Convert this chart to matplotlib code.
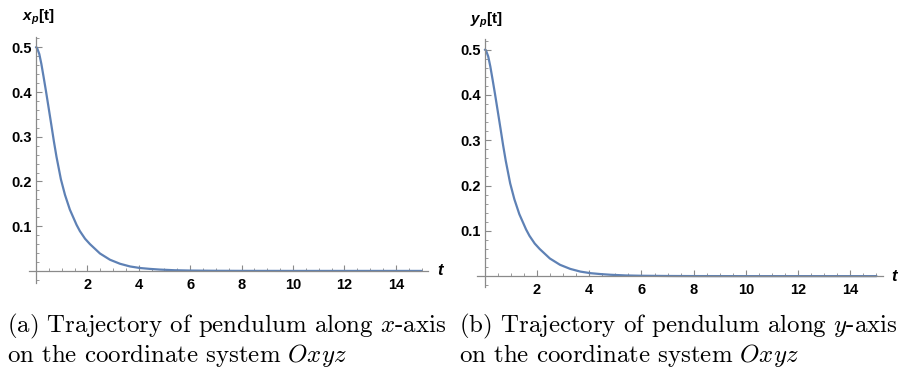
import matplotlib
matplotlib.use("Agg")
import matplotlib.pyplot as plt
from matplotlib.ticker import MultipleLocator

# ---- data ----
t_x = [0, 0.04, 0.13, 0.21, 0.30, 0.39, 0.49, 0.60, 0.70, 0.80, 0.97, 1.13,
       1.32, 1.58, 1.71, 1.91, 2.10, 2.23, 2.49, 2.88, 3.27, 3.66, 4.05, 4.44,
       4.82, 5.4, 6.0, 7.0, 8.0, 10, 12, 15]
x_p = [0.500, 0.499, 0.485, 0.463, 0.433, 0.402, 0.366, 0.326, 0.289, 0.255,
       0.205, 0.170, 0.137, 0.103, 0.089, 0.072, 0.060, 0.053, 0.039, 0.025,
       0.016, 0.010, 0.0065, 0.0045, 0.003, 0.0015, 0.0008, 0.0003, 0.0001,
       0, 0, 0]
t_y = [0, 0.04, 0.13, 0.21, 0.30, 0.39, 0.49, 0.60, 0.70, 0.80, 0.97, 1.13,
       1.32, 1.58, 1.71, 1.91, 2.10, 2.23, 2.49, 2.88, 3.27, 3.66, 4.05, 4.44,
       4.82, 5.4, 6.0, 7.0, 8.0, 10, 12, 15]
y_p = [0.500, 0.499, 0.485, 0.463, 0.433, 0.402, 0.366, 0.326, 0.289, 0.255,
       0.205, 0.170, 0.137, 0.103, 0.089, 0.072, 0.060, 0.053, 0.039, 0.025,
       0.016, 0.010, 0.0065, 0.0045, 0.003, 0.0015, 0.0008, 0.0003, 0.0001,
       0, 0, 0]
x_ticks = [2, 4, 6, 8, 10, 12, 14]
y_ticks = [0.1, 0.2, 0.3, 0.4, 0.5]
y_labels = ["$x_p$[t]", "$y_p$[t]"]
captions = ["(a) Trajectory of pendulum along $x$-axis\non the coordinate system $Oxyz$",
            "(b) Trajectory of pendulum along $y$-axis\non the coordinate system $Oxyz$"]

plt.rcParams['mathtext.fontset'] = 'custom'
plt.rcParams['mathtext.it'] = 'Liberation Sans:bold:italic'
plt.rcParams['mathtext.rm'] = 'Liberation Sans:bold'

LINE = '#5E81B5'
AX = '#8a8a8a'

fig = plt.figure(figsize=(9.04, 3.72), dpi=100)

rects = [
    (29/904, (372-283)/372, 399/904, 246/372, (-0.27, 15.25), (-0.027, 0.523)),
    (477/904, (372-287)/372, 406/904, 248/372, (-0.30, 15.25), (-0.024, 0.5236)),
]
series = [(t_x, x_p), (t_y, y_p)]

for i, (l, b, w, h, xl, yl) in enumerate(rects):
    ax = fig.add_axes([l, b, w, h])
    tt, vv = series[i]
    ax.plot(tt, vv, color=LINE, lw=1.6, solid_capstyle='round',
            solid_joinstyle='round')
    ax.set_xlim(*xl)
    ax.set_ylim(*yl)
    for s in ['top', 'right']:
        ax.spines[s].set_visible(False)
    ax.spines['left'].set_position(('data', 0))
    ax.spines['bottom'].set_position(('data', 0))
    for s in ['left', 'bottom']:
        ax.spines[s].set_color(AX)
        ax.spines[s].set_linewidth(0.9)
    ax.set_xticks(x_ticks)
    ax.set_yticks(y_ticks)
    ax.set_xticklabels([str(v) for v in x_ticks])
    ax.set_yticklabels([f"{v:.1f}" for v in y_ticks])
    ax.xaxis.set_minor_locator(MultipleLocator(0.5))
    ax.yaxis.set_minor_locator(MultipleLocator(0.02))
    ax.tick_params(axis='both', which='major', direction='in', length=4,
                   width=0.8, color=AX, labelsize=10.5)
    ax.tick_params(axis='both', which='minor', direction='in', length=2.2,
                   width=0.6, color=AX)
    ax.tick_params(axis='x', pad=5)
    ax.tick_params(axis='y', pad=3)
    for lab in ax.get_xticklabels() + ax.get_yticklabels():
        lab.set_fontfamily('Liberation Sans')
        lab.set_fontweight('bold')
    ax.patch.set_alpha(0)

fig.text(22/904, 1 - 17/372, y_labels[0], fontsize=11, fontfamily='Liberation Sans',
         fontweight='bold', ha='left', va='center')
fig.text(470/904, 1 - 20/372, y_labels[1], fontsize=11, fontfamily='Liberation Sans',
         fontweight='bold', ha='left', va='center')
fig.text(441/904, 1 - 270/372, "$t$", fontsize=12, ha='center', va='center')
fig.text(895/904, 1 - 276/372, "$t$", fontsize=12, ha='center', va='center')

fig.text(7/904, 1 - 312/372, captions[0], fontsize=17.9, fontfamily='cmr10',
         math_fontfamily='cm', ha='left', va='top', linespacing=1.05)
fig.text(459/904, 1 - 312/372, captions[1], fontsize=17.9, fontfamily='cmr10',
         math_fontfamily='cm', ha='left', va='top', linespacing=1.05)

fig.savefig('out.png', dpi=100)
